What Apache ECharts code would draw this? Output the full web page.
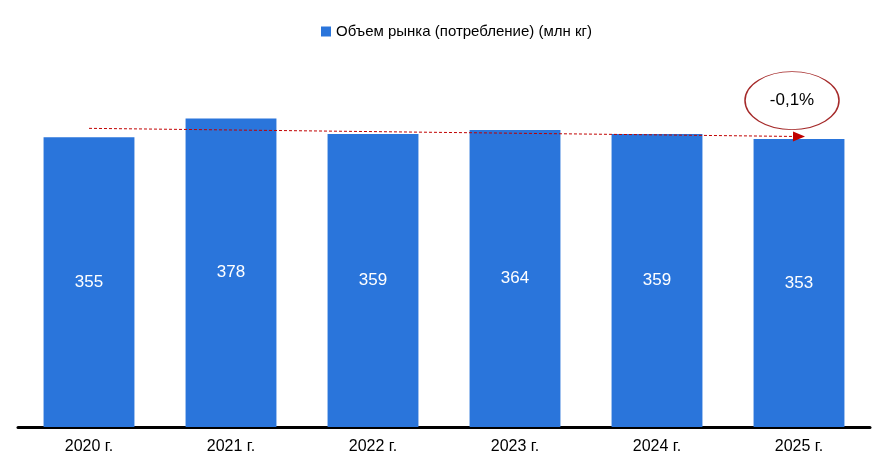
<!DOCTYPE html>
<html><head><meta charset="utf-8">
<script src="https://cdn.jsdelivr.net/npm/echarts@6/dist/echarts.min.js"></script>
<style>html,body{margin:0;padding:0;background:#fff}#c{width:883px;height:474px}</style>
</head><body><div id="c"></div>
<script>
const categories = ['2020 г.', '2021 г.', '2022 г.', '2023 г.', '2024 г.', '2025 г.'];
const values = [355, 378, 359, 364, 359, 353];
const seriesName = 'Объем рынка (потребление) (млн кг)';
const trendStart = 366, trendEnd = 356, badgeValue = 400, badgeText = '-0,1%';
const FONT = '"Liberation Sans Narrow", "Arial Narrow", "Liberation Sans", sans-serif';
const chart = echarts.init(document.getElementById('c'));
chart.setOption({
  animation: false,
  legend: { top: 19, left: 316, icon: 'rect', itemWidth: 10, itemHeight: 10, itemGap: 5,
    textStyle: { fontFamily: FONT, fontSize: 15, color: '#000' }, data: [seriesName] },
  grid: { left: 18, right: 13, top: 19, bottom: 47, containLabel: false },
  xAxis: { type: 'category', data: categories,
    axisLine: { lineStyle: { color: '#000', width: 3 } },
    axisTick: { show: false },
    axisLabel: { fontFamily: FONT, fontSize: 16, color: '#000', margin: 12 } },
  yAxis: { type: 'value', min: 0, max: 500, show: false, splitLine: { show: false } },
  series: [{
    name: seriesName, type: 'bar', data: values, barWidth: '64%',
    itemStyle: { color: '#2A75DB' },
    label: { show: true, position: 'inside', color: '#fff', fontFamily: FONT, fontSize: 17 },
    markLine: { silent: true, symbol: ['none', 'triangle'], symbolSize: [10, 12],
      lineStyle: { color: '#C00000', type: [3, 2], width: 1 },
      label: { show: false },
      data: [[ { coord: [categories[0], trendStart] }, { coord: [categories[5], trendEnd] } ]] },
    markPoint: { silent: true, symbol: 'circle', symbolSize: [94, 58], symbolOffset: [-7, 0],
      itemStyle: { color: '#fff', borderColor: '#A52A2A', borderWidth: 1.2 },
      label: { show: true, formatter: badgeText, color: '#000', fontFamily: FONT, fontSize: 17 },
      data: [ { coord: [categories[5], badgeValue] } ] }
  }]
});
</script></body></html>
